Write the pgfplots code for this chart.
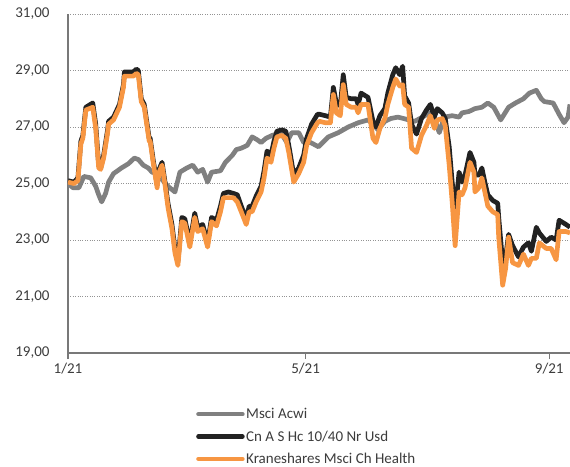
\documentclass[border=0pt]{standalone}
\usepackage{fontspec}
\setmainfont{Carlito}
\usepackage{pgfplots}
\pgfplotsset{compat=1.18}
\definecolor{acwi}{RGB}{128,128,128}
\definecolor{cnhc}{RGB}{34,34,34}
\definecolor{krane}{RGB}{247,150,66}
\definecolor{axgray}{RGB}{120,120,120}
\definecolor{txt}{RGB}{60,60,60}
\begin{document}
\begin{tikzpicture}
\useasboundingbox (-68pt,-113pt) rectangle (502pt,353pt);
\begin{axis}[
    at={(0,0)}, anchor=south west,
    scale only axis, width=502pt, height=339pt,
    xmin=0, xmax=253.5, ymin=19, ymax=31,
    axis x line*=bottom, axis y line*=left,
    axis line style={draw=axgray, line width=1.2pt},
    ytick={19,21,...,31},
    ymajorgrids, grid style={dotted, acwi!85, line width=0.9pt},
    xtick={0,120,243}, xticklabels={1/21,5/21,9/21},
    tick align=outside,
    x tick style={draw=axgray, line width=1.2pt},
    major tick length=6pt,
    y tick style={draw=none},
    /pgf/number format/assume math mode=true,
    yticklabel style={/pgf/number format/.cd, fixed, fixed zerofill, precision=2, use comma, /tikz/.cd, xshift=-9pt},
    ticklabel style={font=\fontsize{15}{17}\selectfont, text=txt},
    xticklabel style={yshift=-1pt},
    legend style={draw=none, fill=none, at={(axis description cs:0.255,-0.158)}, anchor=north west,
        inner sep=0pt, row sep=7.5pt, font=\fontsize{15}{17}\selectfont, text=txt,
        nodes={inner sep=1.5pt, anchor=west}},
    legend cell align=left,
    legend image code/.code={\draw[#1, line width=4.5pt, line cap=round] (0pt,0pt) -- (44pt,0pt);},
    every axis plot/.append style={line width=4.7pt, line join=round, no marks},
]
\addplot[acwi] coordinates {
(0,25.0) (2.5,24.85) (5.5,24.85) (8,25.25) (11.5,25.2) (14,24.9) (15.5,24.6) (17,24.35)
(19,24.65) (20.5,25.05) (23,25.35) (27,25.55) (30.5,25.7) (33.5,25.9) (35.5,25.85) (38,25.65)
(40.5,25.55) (42.5,25.4) (45,25.35) (48,25.1) (50.5,24.9) (54,24.7) (56.5,25.4) (60,25.55)
(63,25.65) (65.5,25.4) (68,25.5) (70.5,25.05) (72.5,25.4) (77,25.45) (79.5,25.75) (83,26.0)
(85,26.2) (87.5,26.25) (90.5,26.35) (93,26.65) (95.5,26.55) (97.5,26.45) (100,26.6) (103,26.7)
(107.5,26.8) (110.5,26.45) (113,26.8) (116.5,26.8) (119,26.45) (122.5,26.45) (126.5,26.3)
(131.5,26.65) (136.5,26.8) (141.5,27.0) (146.5,27.15) (151.5,27.25) (154,27.1) (156.5,26.9)
(160,27.2) (163,27.3) (166.5,27.35) (169.5,27.3) (172,27.25) (175,27.2) (179,27.35) (182.5,27.5)
(185.5,27.2) (187.5,26.8) (190,27.35) (194,27.4) (197.5,27.35) (199,27.5) (202.5,27.55)
(205.5,27.65) (209,27.7) (212,27.85) (215,27.7) (218.5,27.25) (222.5,27.7) (226,27.85)
(230,28.0) (233,28.2) (236.5,28.3) (239,28.0) (240.5,27.9) (245,27.85) (248,27.45)
(250.5,27.15) (252.5,27.35) (253.5,27.8)
};
\addlegendentry{Msci Acwi}
\addplot[cnhc] coordinates {
(0,25.1) (3,25.05) (5,25.2) (6.5,26.5) (7.5,26.7) (9,27.7) (12.5,27.85) (14,27.1) (15.5,25.65)
(16.5,25.55) (18,26.0) (20,26.9) (20.5,27.2) (23,27.35) (26,27.8) (28,28.5) (28.5,28.95)
(33,28.95) (34.5,29.05) (35.5,29.0) (37,28.0) (38.5,27.8) (41,26.6) (41.5,26.6) (43,25.85)
(45,24.95) (46,25.5) (47.5,25.75) (49,25.05) (50.5,24.3) (52.5,23.55) (54,22.7) (55.5,22.25)
(57.5,23.8) (59,23.75) (61.5,22.9) (64,23.95) (65.5,23.45) (68,23.55) (70.5,22.9) (72.5,23.8)
(75,23.7) (77,24.2) (78.5,24.65) (81,24.7) (83.5,24.65) (85.5,24.6) (87.5,24.2) (90,23.75)
(91.5,24.2) (93,24.2) (95,24.55) (97.5,24.9) (99,25.45) (100.5,26.15) (102.5,26.0) (104,26.5)
(105.5,26.85) (108,26.9) (110,26.85) (111.5,26.35) (114,25.3) (116.5,25.55) (119,26.0)
(120.5,26.6) (123,27.1) (126,27.45) (127,27.45) (130,27.4) (132.5,27.35) (134,28.4)
(135.5,27.85) (137.5,27.75) (139,28.85) (140.5,28.05) (143,28.0) (145.5,28.0) (146.5,27.8)
(148,28.2) (151.5,28.05) (154,27.2) (155.5,27.0) (157.5,27.4) (160,27.65) (161.5,28.2)
(164,28.85) (165.5,29.1) (167.5,28.85) (169,29.15) (170,28.1) (172,27.85) (173.5,27.1)
(176,26.75) (178.5,27.3) (181,27.6) (183,27.8) (185,27.35) (186.5,27.65) (189,27.5)
(190.5,27.3) (192.5,26.3) (194,25.05) (195.5,24.0) (197.5,25.4) (199,25.05) (200.5,25.3)
(203,26.1) (205,25.75) (205.5,25.3) (207.5,25.3) (209,25.55) (210.5,25.05) (212,24.6)
(214.5,24.4) (217,24.3) (217.5,23.8) (219.5,22.2) (221,22.4) (222.5,23.2) (224.5,22.8)
(227.5,22.4) (230,22.75) (232.5,22.9) (234,22.6) (236.5,23.45) (238,23.25) (241.5,22.95)
(244,23.1) (246.5,23.0) (248,23.7) (251.5,23.55) (253.5,23.45)
};
\addlegendentry{Cn A S Hc 10/40 Nr Usd}
\addplot[krane] coordinates {
(0,25.05) (3,25.0) (5,25.1) (6.5,26.4) (7.5,26.6) (9,27.6) (12.5,27.7) (14,26.95) (15.5,25.55)
(16.5,25.5) (18,25.9) (20,26.8) (20.5,27.1) (23,27.25) (26,27.7) (28,28.4) (28.5,28.8)
(33,28.8) (34.5,28.9) (35.5,28.85) (37,27.9) (38.5,27.7) (41,26.5) (41.5,26.5) (43,25.75)
(45,24.85) (46,25.4) (47.5,25.65) (49,24.95) (50.5,24.15) (52.5,23.4) (54,22.55) (55.5,22.1)
(57.5,23.65) (59,23.6) (61.5,22.75) (64,23.8) (65.5,23.3) (68,23.4) (70.5,22.75) (72.5,23.65)
(75,23.5) (77,24.0) (78.5,24.5) (81,24.5) (83.5,24.5) (85.5,24.35) (87.5,24.0) (90,23.55)
(91.5,24.0) (93,24.0) (95,24.35) (97.5,24.7) (99,25.2) (100.5,25.9) (102.5,25.75) (104,26.25)
(105.5,26.65) (108,26.7) (110,26.6) (111.5,26.1) (114,25.05) (116.5,25.35) (119,25.75)
(120.5,26.35) (123,26.8) (126,27.15) (127,27.2) (130,27.15) (132.5,27.15) (134,28.15)
(135.5,27.5) (137.5,27.4) (139,28.5) (140.5,27.8) (143,27.7) (145.5,27.7) (146.5,27.5)
(148,27.8) (151.5,27.8) (154,26.6) (155.5,26.45) (157.5,26.95) (160,27.3) (161.5,27.8)
(164,28.4) (165.5,28.7) (167.5,28.45) (169,28.5) (170,27.8) (172,27.7) (173.5,26.25)
(176,26.1) (178.5,26.7) (181,27.05) (183,27.4) (185,26.95) (186.5,27.25) (189,27.3)
(190.5,27.05) (192.5,25.65) (194,24.35) (195.5,22.8) (197.5,24.7) (199,24.6) (200.5,24.85)
(203,25.75) (205,25.4) (205.5,24.7) (207.5,24.85) (209,25.2) (210.5,24.7) (212,24.2)
(214.5,24.0) (217,23.9) (217.5,23.1) (219.5,21.4) (221,22.0) (222.5,23.1) (224.5,22.2)
(227.5,22.1) (230,22.5) (232.5,22.1) (234,22.35) (236.5,22.35) (238,22.9) (241.5,22.7)
(244,22.7) (246.5,22.3) (248,23.3) (251.5,23.3) (253.5,23.25)
};
\addlegendentry{Kraneshares Msci Ch Health}
\end{axis}
\end{tikzpicture}
\end{document}
